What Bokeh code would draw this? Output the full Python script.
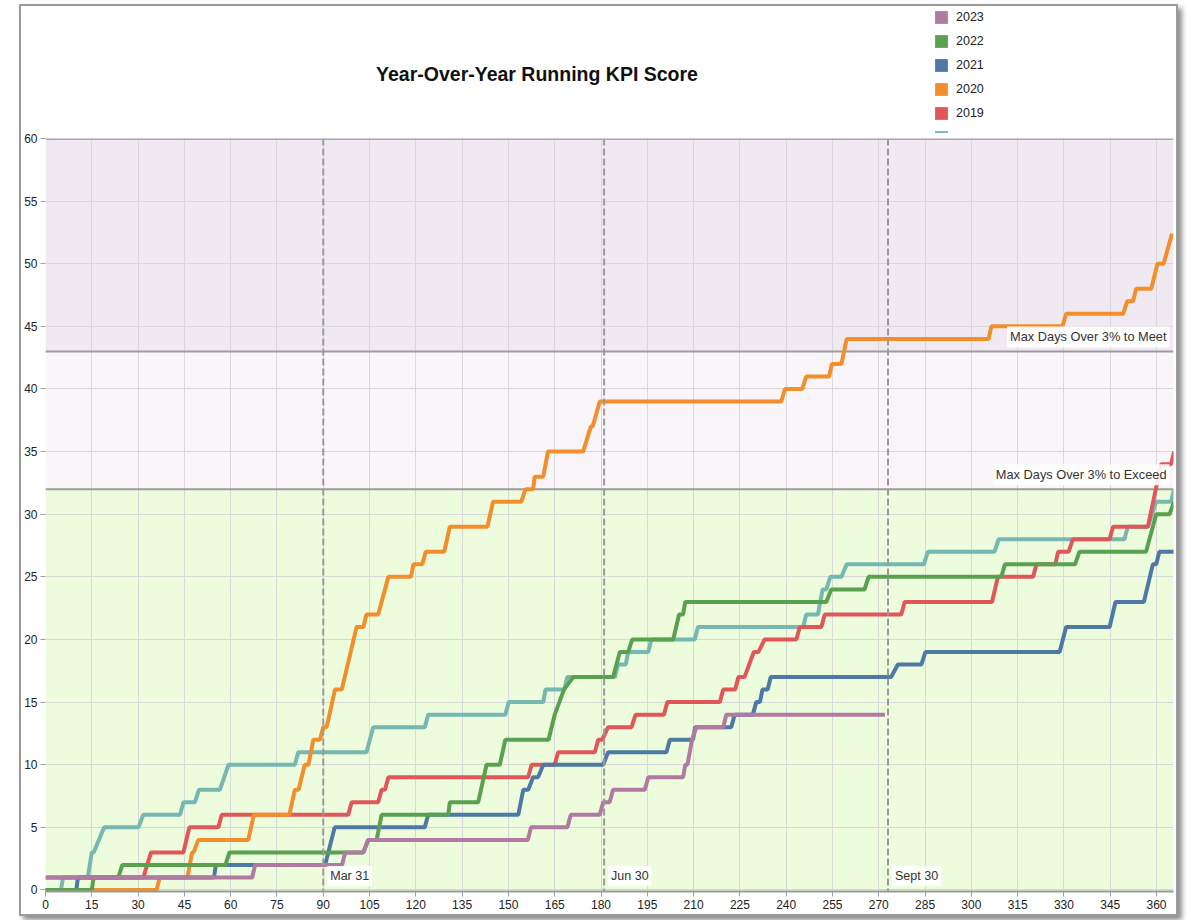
from bokeh.plotting import figure
from bokeh.models import Range1d, FixedTicker, BoxAnnotation, Span, Label, Legend, LegendItem
from bokeh.layouts import column
from bokeh.embed import file_html
from bokeh.resources import INLINE

# ---------------- data ----------------
years = ["2023", "2022", "2021", "2020", "2019", "2018"]
colors = ["#b07aa1", "#59a14f", "#4e79a7", "#f28e2b", "#e15759", "#76b7b2"]

days_2023 = [0, 67, 67.9, 96.1, 97.1, 103, 104.6, 156.3, 157.3, 169.1, 170.2, 179.6, 180.7, 182.8, 183.9,
             194.2, 195.3, 206.6, 207.3, 208, 209.5, 210.9, 219.6, 220.6, 272]
score_2023 = [1, 1, 2, 2, 3, 3, 4, 4, 5, 5, 6, 6, 7, 7, 8,
              8, 9, 9, 10, 10, 12, 13, 13, 14, 14]

days_2022 = [0, 15, 15.6, 23.6, 24.9, 58.3, 59.6, 103, 104.5, 107.3, 108.9, 130.5, 131, 140.2, 142.9, 147.2,
             149, 163, 165, 166.5, 168, 171, 183.9, 186.1, 188.8, 190.1, 203.4, 205.3, 206.6, 207.3,
             253, 254.6, 265.4, 266.7, 309.7, 310.9, 333.6, 335, 356.6, 359.9, 364.2, 365.7]
score_2022 = [0, 0, 1, 1, 2, 2, 3, 3, 4, 4, 6, 6, 7, 7, 10, 10,
              12, 12, 14, 15, 16, 17, 17, 19, 19, 20, 20, 22, 22, 23,
              23, 24, 24, 25, 25, 26, 26, 27, 27, 30, 30, 31]

days_2021 = [0, 10, 10.5, 54.6, 55.2, 90.6, 93.7, 122.9, 124, 153.2, 154.8, 156.4, 158, 159.6, 161.3,
             180.7, 182.3, 201.2, 202.3, 209.8, 210.5, 222.2, 223.3, 229.2, 230.3, 231.5, 232.3, 234, 235,
             274, 276.2, 283.8, 285.1, 328.6, 330.7, 344.8, 346.7, 355.9, 358.8, 359.9, 360.9, 365.7]
score_2021 = [0, 0, 1, 1, 2, 2, 5, 5, 6, 6, 8, 8, 9, 9, 10,
              10, 11, 11, 12, 12, 13, 13, 14, 14, 15, 15, 16, 16, 17,
              17, 18, 18, 19, 19, 21, 21, 23, 23, 26, 26, 27, 27]

days_2020 = [0, 36, 37, 46, 47.5, 48, 49.5, 65.7, 67.5, 79, 80.8, 82, 84, 85.2, 86.8, 88.9, 90, 91.1,
             93.8, 96, 100.8, 103, 104, 107.8, 111.1, 118.4, 119.2, 122.1, 123.2, 129.2, 131, 143.2,
             145, 154.2, 155.5, 158, 158.5, 161.3, 162.8, 174.2, 176.7, 177.3, 179.6, 238.4, 239.6,
             245.2, 246.5, 253.9, 254.8, 257.9, 259.6, 305.6, 306.5, 329.5, 330.7, 349.2, 350.5,
             352.4, 353.4, 358.3, 360.3, 362.3, 365]
score_2020 = [0, 0, 1, 1, 3, 3, 4, 4, 6, 6, 8, 8, 10, 10, 12, 12, 13, 13,
              16, 16, 21, 21, 22, 22, 25, 25, 26, 26, 27, 27, 29, 29,
              31, 31, 32, 32, 33, 33, 35, 35, 37, 37, 39, 39, 40,
              40, 41, 41, 42, 42, 44, 44, 45, 45, 46, 46, 47,
              47, 48, 48, 50, 50, 52.4]

days_2019 = [0, 31.7, 34.2, 44.7, 46.6, 56, 57.1, 98.1, 99.2, 107.8, 108.9, 110, 111.1, 156.4, 157.5,
             165, 166.1, 178, 179.1, 180.4, 182.3, 189.9, 191.2, 200.4, 201.5, 218.5, 219.6, 223.5,
             224.5, 226.5, 229.5, 231, 233, 243.3, 244.4, 251.4, 252.5, 277.3, 278.4, 306.7, 308.6,
             320, 321.1, 327.2, 328.1, 331.5, 332.9, 344.8, 345.9, 357.2, 361.5, 364.7, 365.7]
score_2019 = [1, 1, 3, 3, 5, 5, 6, 6, 7, 7, 8, 8, 9, 9, 10,
              10, 11, 11, 12, 12, 13, 13, 14, 14, 15, 15, 16, 16,
              17, 17, 19, 19, 20, 20, 21, 21, 22, 22, 23, 23, 25,
              25, 26, 26, 27, 27, 28, 28, 29, 29, 34, 34, 35]

days_2018 = [0, 5, 5.7, 13.7, 15, 15.6, 19, 30.1, 31.7, 43.6, 44.7, 48.4, 49.7, 56.5, 59.3, 80.8, 81.9,
             104, 106.2, 122.9, 124, 149, 150.1, 161.3, 162, 168.1, 169.1, 184.5, 185.5, 188, 188.8,
             195.3, 196.3, 210.4, 211.4, 245.5, 246.5, 250.3, 251.8, 253, 254.3, 257.9, 259.6, 284.6,
             285.9, 307.5, 308.8, 349.6, 350.7, 357.2, 359.9, 364.7, 365.7]
score_2018 = [0, 0, 1, 1, 3, 3, 5, 5, 6, 6, 7, 7, 8, 8, 10, 10, 11,
              11, 13, 13, 14, 14, 15, 15, 16, 16, 17, 17, 18, 18, 19,
              19, 20, 20, 21, 21, 22, 22, 24, 24, 25, 25, 26, 26,
              27, 27, 28, 28, 29, 29, 31, 31, 32]

series_days = [days_2023, days_2022, days_2021, days_2020, days_2019, days_2018]
series_scores = [score_2023, score_2022, score_2021, score_2020, score_2019, score_2018]

x_ticks = [0, 15, 30, 45, 60, 75, 90, 105, 120, 135, 150, 165, 180, 195, 210, 225, 240, 255,
           270, 285, 300, 315, 330, 345, 360]
y_ticks = [0, 5, 10, 15, 20, 25, 30, 35, 40, 45, 50, 55, 60]
x_lo, x_hi = 0, 365.5
y_lo, y_hi = -0.12, 60

quarter_days = [90, 181, 273]
quarter_labels = ["Mar 31", "Jun 30", "Sept 30"]

meet_level = 43
exceed_level = 32
meet_label = "Max Days Over 3% to Meet"
exceed_label = "Max Days Over 3% to Exceed"
title_text = "Year-Over-Year Running KPI Score"

FONT = "Liberation Sans"
CARD_W = 1155
NAN = float("nan")

# ---------------- header (title + legend) ----------------
# (frame of this header is aligned by the column with the chart frame below)
HEAD_H = 127
h = figure(width=CARD_W, height=HEAD_H, x_range=Range1d(0, CARD_W), y_range=Range1d(0, HEAD_H),
           x_axis_location=None, y_axis_location=None, output_backend="svg",
           toolbar_location=None, min_border=0, outline_line_color=None,
           background_fill_color="white", border_fill_color="white")
h.grid.visible = False

h.add_layout(Label(x=491.5, y=59.5, x_units="screen", y_units="screen", text=title_text,
                   text_align="center", text_baseline="middle", text_font=FONT,
                   text_font_style="bold", text_font_size="19.5px", text_color="#111111"))

items = []
for i, (yr, c) in enumerate(zip(years, colors)):
    # legend swatch only: a quad with no drawable extent
    r = h.quad(left=[NAN], right=[NAN], top=[NAN], bottom=[NAN], fill_color=c, line_color=None)
    lab = yr if i < 5 else ""
    items.append(LegendItem(label=lab, renderers=[r]))

legend = Legend(items=items, location=(888, -12.3), orientation="vertical",
                glyph_width=16, glyph_height=16, label_height=16, spacing=8,
                padding=0, margin=0, label_standoff=7, border_line_color=None,
                background_fill_alpha=0, label_text_font=FONT,
                label_text_font_size="12.5px", label_text_color="#222222")
h.add_layout(legend)

# ---------------- main chart ----------------
p = figure(width=CARD_W, height=781, x_range=Range1d(x_lo, x_hi), y_range=Range1d(y_lo, y_hi),
           output_backend="svg", toolbar_location=None,
           min_border_left=23, min_border_right=3, min_border_top=5, min_border_bottom=23,
           background_fill_color="white", border_fill_color="white", outline_line_color=None)

p.add_layout(BoxAnnotation(top=exceed_level, fill_color="#ecfcdc", fill_alpha=1,
                           line_color=None, level="image"))
p.add_layout(BoxAnnotation(bottom=exceed_level, top=meet_level, fill_color="#f9f5f9",
                           fill_alpha=1, line_color=None, level="image"))
p.add_layout(BoxAnnotation(bottom=meet_level, fill_color="#f0e9f2", fill_alpha=1,
                           line_color=None, level="image"))

p.xaxis.ticker = FixedTicker(ticks=x_ticks)
p.yaxis.ticker = FixedTicker(ticks=y_ticks)
p.grid.grid_line_color = "#d8d8d8"
p.grid.grid_line_width = 1

for ax in (p.xaxis, p.yaxis):
    ax.major_tick_line_color = "#a0a0a0"
    ax.major_tick_out = 5
    ax.major_tick_in = 0
    ax.minor_tick_line_color = None
    ax.major_label_text_font = FONT
    ax.major_label_text_font_size = "12px"
    ax.major_label_text_color = "#222222"
    ax.major_label_standoff = 3
p.xaxis.axis_line_color = "#9a9a9a"
p.xaxis.axis_line_width = 2
p.yaxis.axis_line_color = None

for lvl in (meet_level, exceed_level):
    p.add_layout(Span(location=lvl, dimension="width", line_color="#9c9c9c",
                      line_width=2, level="underlay"))
p.add_layout(Span(location=y_hi, dimension="width", line_color="#a8a8a8",
                  line_width=3, level="overlay"))

# series: draw 2018 first, 2023 last (on top)
for d, s, c in reversed(list(zip(series_days, series_scores, colors))):
    p.line(d, s, line_color=c, line_width=4)

for qd, ql in zip(quarter_days, quarter_labels):
    p.add_layout(Span(location=qd, dimension="height", line_color="#9a9a9a",
                      line_width=2, line_dash="7 3", level="annotation"))
    p.add_layout(Label(x=qd, y=0, text=ql, text_align="left", text_baseline="bottom",
                       x_offset=4, y_offset=4, text_font=FONT, text_font_size="12.5px",
                       text_color="#333333", background_fill_color="white",
                       background_fill_alpha=0.9, padding=3))

for lvl, txt in ((meet_level, meet_label), (exceed_level, exceed_label)):
    p.add_layout(Label(x=x_hi, y=lvl, text=txt, text_align="right", text_baseline="bottom",
                       x_offset=-4, y_offset=4, text_font=FONT, text_font_size="12.8px",
                       text_color="#333333", background_fill_color="white",
                       background_fill_alpha=0.9, padding=3))

layout = column(h, p, spacing=0,
                styles={"border": "2px solid #9a9a9a",
                        "box-shadow": "4px 4px 5px rgba(0,0,0,0.45)",
                        "margin-left": "19px", "margin-top": "4px"})

open("out.html", "w").write(file_html(layout, INLINE))
